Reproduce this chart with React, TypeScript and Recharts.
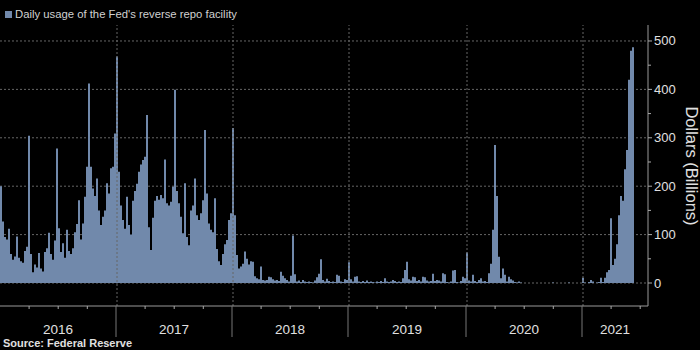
import { Bar, BarChart, CartesianGrid, ReferenceLine, XAxis, YAxis } from "recharts";

const years = ["2016", "2017", "2018", "2019", "2020", "2021"];

// daily usage of the facility, $bn, sampled about once every 6 days
const usage2016 = [200, 127, 95, 90, 112, 60, 48, 55, 96, 52, 45, 42, 66, 75, 304, 60, 22, 38, 32, 62, 30, 24, 64, 72, 104, 60, 48, 88, 278, 113, 64, 82, 52, 110, 66, 60, 72, 105, 122, 171, 90, 123, 178, 240, 412, 240, 195, 180, 216, 150, 120, 137, 150, 206, 185, 237, 240, 309];
const usage2017 = [468, 230, 160, 130, 112, 178, 120, 100, 170, 190, 205, 230, 245, 254, 261, 347, 115, 68, 135, 170, 180, 172, 182, 175, 255, 165, 160, 168, 199, 399, 190, 165, 137, 103, 206, 95, 78, 150, 160, 216, 140, 130, 144, 171, 316, 185, 123, 110, 105, 175, 70, 45, 37, 60, 80, 89, 130, 144];
const usage2018 = [320, 140, 58, 30, 34, 40, 65, 50, 38, 45, 44, 14, 10, 8, 34, 6, 5, 6, 13, 12, 8, 5, 6, 4, 23, 15, 10, 6, 3, 15, 98, 18, 3, 5, 2, 6, 3, 2, 3, 2, 1, 5, 12, 19, 49, 6, 3, 9, 4, 2, 3, 2, 17, 15, 3, 2, 8, 6];
const usage2019 = [43, 8, 3, 13, 14, 3, 2, 4, 2, 5, 2, 3, 2, 1, 3, 2, 4, 2, 10, 3, 2, 3, 6, 4, 2, 3, 2, 10, 27, 44, 8, 5, 13, 12, 4, 6, 3, 13, 12, 5, 3, 4, 19, 4, 6, 5, 3, 20, 18, 2, 1, 3, 26, 27, 2, 1, 4, 13, 10];
const usage2020 = [63, 5, 3, 17, 4, 2, 6, 10, 3, 4, 2, 20, 40, 110, 285, 180, 54, 10, 30, 17, 3, 13, 8, 5, 2, 1, 3, 1, 0, 0, 0, 0, 0, 0, 0, 0, 0, 0, 0, 0, 0, 0, 0, 1, 0, 0, 0, 0, 0, 0, 0, 1, 0, 0, 0, 0, 0, 0];
// no data yet for the rest of the 2021 axis
const usage2021 = [11, 1, 0, 2, 6, 3, 0, 1, 2, 11, 2, 11, 22, 27, 134, 37, 50, 80, 140, 180, 170, 235, 275, 420, 480, 487, null, null, null, null, null, null, null];

const usageByYear: (number | null)[][] = [usage2016, usage2017, usage2018, usage2019, usage2020, usage2021];

const yTicks = [0, 50, 100, 150, 200, 250, 300, 350, 400, 450, 500];
const gridValues = [0, 100, 200, 300, 400, 500];

const W = 700;
const H = 350;
const AXIS_W = 52;
const XAXIS_H = 44;
const BAR = "#7189ab";

type Point = { key: string; year: string; first: boolean; v: number | null };

const data: Point[] = usageByYear.flatMap((vals, k) =>
  vals.map((v, j) => ({ key: `${years[k]}-${j}`, year: years[k], first: j === 0, v }))
);
const byKey: Record<string, Point> = {};
data.forEach((d) => (byKey[d.key] = d));
const yearLen: Record<string, number> = {};
usageByYear.forEach((vals, k) => (yearLen[years[k]] = vals.length));

const plotW = W - AXIS_W;
const bw = plotW / data.length;
const fullYear = bw * 58.2;

const YearTick = (props: any) => {
  const { x, y, payload } = props;
  const p = byKey[payload.value];
  if (!p || !p.first) return <g />;
  const x0 = x - bw / 2;
  const len = yearLen[p.year] * bw;
  const quarters = [1, 2, 3].map((q) => x0 + (q * fullYear) / 4).filter((qx) => qx < plotW - 2);
  return (
    <g>
      {p.year !== years[0] && <line x1={x0} x2={x0} y1={y} y2={y + 31} stroke="#777" />}
      {quarters.map((qx) => (
        <line key={qx} x1={qx} x2={qx} y1={y} y2={y + 3} stroke="#aaa" />
      ))}
      <text x={x0 + len / 2} y={y + 28} textAnchor="middle" fill="#e0e0e0" fontSize={13.5} fontFamily="Liberation Sans, Arial, sans-serif">
        {p.year}
      </text>
    </g>
  );
};

const ValueTick = (props: any) => {
  const { x, y, payload } = props;
  const major = payload.value % 100 === 0;
  return (
    <g>
      <line x1={x} x2={x + (major ? 4 : 3)} y1={y} y2={y} stroke="#aaa" />
      {major && (
        <text x={x + 6} y={y + 4.5} fill="#e0e0e0" fontSize={13} fontFamily="Liberation Sans, Arial, sans-serif">
          {payload.value}
        </text>
      )}
    </g>
  );
};

export default function App() {
  return (
    <div style={{ position: "fixed", left: 0, top: 0, width: W, height: H, background: "#000", overflow: "hidden", fontFamily: "Liberation Sans, Arial, sans-serif" }}>
      <div style={{ position: "absolute", left: 5, top: 11, width: 7, height: 7, background: BAR }} />
      <div style={{ position: "absolute", left: 15, top: 9, fontSize: 11.3, lineHeight: "11px", color: "#d0d0d0", whiteSpace: "nowrap" }}>
        Daily usage of the Fed's reverse repo facility
      </div>
      <BarChart width={W} height={H} data={data} margin={{ top: 25, right: 0, bottom: 0, left: 0 }} barCategoryGap={0} barGap={0}>
        <CartesianGrid vertical={false} horizontalValues={gridValues} stroke="#666" strokeDasharray="2 2" />
        {years.slice(1).map((yr) => (
          <ReferenceLine key={yr} x={`${yr}-0`} stroke="#666" strokeDasharray="2 2" />
        ))}
        <XAxis dataKey="key" height={XAXIS_H} interval={0} tickSize={0} tickMargin={0} tickLine={false} axisLine={{ stroke: "#999" }} tick={YearTick} />
        <YAxis orientation="right" width={AXIS_W} type="number" domain={[-47.5, 533]} allowDataOverflow ticks={yTicks} interval={0} tickSize={0} tickMargin={0} tickLine={false} axisLine={{ stroke: "#999" }} tick={ValueTick} />
        <Bar dataKey="v" fill={BAR} isAnimationActive={false} />
      </BarChart>
      <div style={{ position: "absolute", left: 691, top: 166, transform: "translate(-50%, -50%) rotate(90deg)", fontSize: 16.5, color: "#e0e0e0", whiteSpace: "nowrap" }}>
        Dollars (Billions)
      </div>
      <div style={{ position: "absolute", left: 3, top: 338, fontSize: 11, lineHeight: "11px", fontWeight: "bold", color: "#e0e0e0", whiteSpace: "nowrap" }}>
        Source: Federal Reserve
      </div>
    </div>
  );
}
